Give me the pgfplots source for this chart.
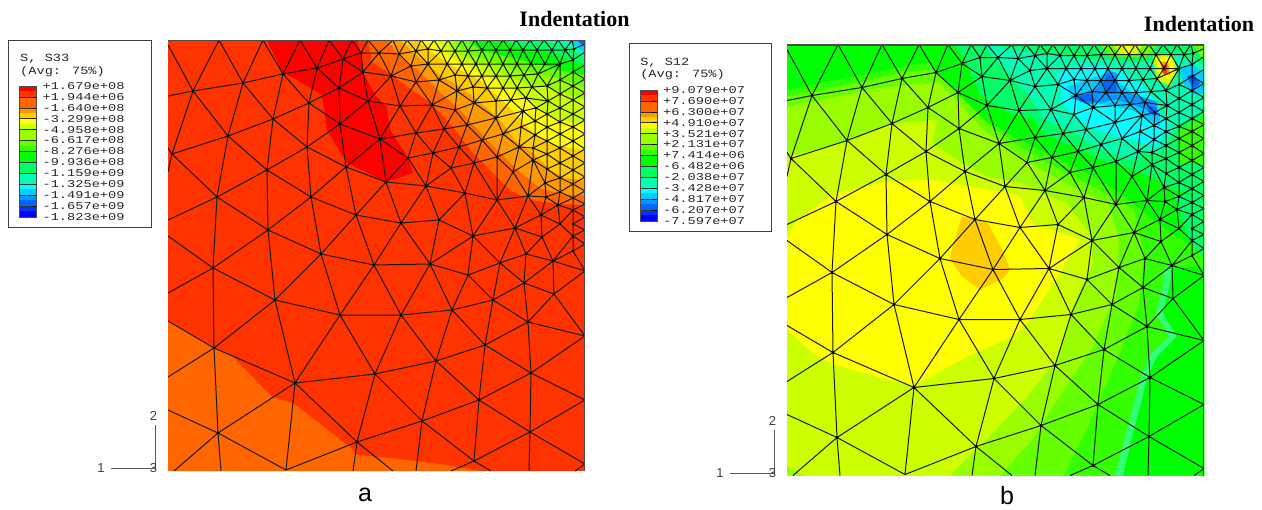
\documentclass[border=0pt]{standalone}
\usepackage{fontspec}
\setmainfont{Liberation Serif}
\newfontfamily\sansf{Liberation Sans}
\newfontfamily\monof{Liberation Mono}
\usepackage{pgfplots}
\usepackage{pgfplotstable}
\pgfplotsset{compat=1.18}
\newcommand\poly[2]{\addplot[fill=#1,draw=none,forget plot] coordinates {#2} --cycle;}
\definecolor{r0}{HTML}{FF0000}\definecolor{r1}{HTML}{FF3300}\definecolor{r2}{HTML}{FF6600}
\definecolor{r3}{HTML}{FF9900}\definecolor{r4}{HTML}{FFCC00}\definecolor{r5}{HTML}{FFFF00}
\definecolor{r6}{HTML}{CCFF00}\definecolor{r7}{HTML}{99FF00}\definecolor{r8}{HTML}{66FF00}
\definecolor{r9}{HTML}{33FF00}\definecolor{r10}{HTML}{00FF00}\definecolor{r11}{HTML}{00FF66}
\definecolor{r12}{HTML}{00FFB0}\definecolor{r13}{HTML}{00FFFF}\definecolor{r14}{HTML}{00CCFF}
\definecolor{r15}{HTML}{0099FF}\definecolor{r16}{HTML}{0066FF}\definecolor{r17}{HTML}{0033FF}
\definecolor{r18}{HTML}{0000FF}\definecolor{rb}{HTML}{33FF77}
\pgfplotstableread[row sep=\\]{
x y\\
168 45\\193 91\\219 40\\243 83\\263 40\\283 74\\300 40\\317 68\\329 40\\343 59\\352 40\\361 53\\368 40\\379 53\\393 40\\399 54\\407 40\\416 51\\421 40\\428 49\\434 40\\441 51\\448 40\\455 51\\462 40\\468 51\\475 40\\482 50\\489 40\\496 50\\503 40\\510 50\\516 40\\523 50\\530 40\\537 50\\544 40\\552 50\\558 40\\565 50\\572 40\\574 49\\585 44\\nan nan\\
168 96\\193 91\\243 83\\283 74\\317 68\\343 59\\361 53\\379 53\\399 54\\416 51\\428 49\\441 51\\455 51\\468 51\\482 50\\496 50\\510 50\\523 50\\537 50\\552 50\\565 50\\574 49\\nan nan\\
193 91\\228 136\\243 83\\273 119\\283 74\\309 103\\317 68\\339 88\\343 59\\363 72\\361 53\\nan nan\\
379 53\\363 72\\391 76\\379 53\\nan nan\\399 54\\391 76\\411 66\\399 54\\nan nan\\
411 66\\428 64\\447 64\\462 64\\476 64\\489 64\\503 64\\517 64\\531 64\\545 64\\560 64\\nan nan\\
411 66\\416 51\\428 64\\428 49\\nan nan\\428 64\\441 51\\447 64\\455 51\\462 64\\468 51\\476 64\\482 50\\489 64\\496 50\\503 64\\510 50\\517 64\\523 50\\531 64\\537 50\\545 64\\552 50\\560 64\\565 50\\573 60\\574 49\\nan nan\\
391 76\\416 82\\439 80\\455 75\\468 76\\482 76\\496 76\\510 76\\524 75\\538 74\\560 64\\nan nan\\
411 66\\416 82\\428 64\\439 80\\447 64\\455 75\\462 64\\468 76\\476 64\\482 76\\489 64\\496 76\\503 64\\510 76\\517 64\\524 75\\531 64\\538 74\\545 64\\nan nan\\
457 91\\473 87\\487 88\\503 88\\517 88\\532 87\\547 86\\560 80\\573 72\\585 65\\nan nan\\
439 80\\457 91\\455 75\\nan nan\\457 91\\468 76\\473 87\\482 76\\487 88\\496 76\\503 88\\510 76\\517 88\\524 75\\532 87\\538 74\\547 86\\560 64\\nan nan\\
400 106\\432 105\\455 110\\474 103\\496 101\\511 100\\526 98\\548 101\\nan nan\\
457 91\\474 103\\473 87\\nan nan\\474 103\\487 88\\496 101\\503 88\\511 100\\517 88\\526 98\\532 87\\548 101\\547 86\\nan nan\\
416 82\\400 106\\nan nan\\416 82\\432 105\\439 80\\nan nan\\432 105\\457 91\\455 110\\nan nan\\
391 76\\400 106\\368 101\\391 76\\nan nan\\363 72\\368 101\\339 88\\363 72\\nan nan\\368 101\\380 139\\340 124\\368 101\\nan nan\\339 88\\340 124\\309 103\\339 88\\nan nan\\400 106\\380 139\\nan nan\\
363 72\\339 88\\309 103\\273 119\\228 136\\172 154\\nan nan\\172 154\\168 148\\nan nan\\172 154\\168 172\\nan nan\\193 91\\172 154\\217 197\\228 136\\267 170\\273 119\\307 147\\309 103\\nan nan\\
267 170\\307 147\\340 124\\nan nan\\307 147\\346 167\\340 124\\nan nan\\346 167\\380 139\\386 182\\346 167\\nan nan\\380 139\\408 158\\386 182\\nan nan\\267 170\\311 197\\307 147\\nan nan\\217 197\\267 170\\268 230\\217 197\\nan nan\\311 197\\346 167\\356 215\\386 182\\nan nan\\311 197\\356 215\\401 223\\386 182\\nan nan\\
380 139\\416 133\\444 129\\467 125\\496 118\\523 111\\536 108\\548 101\\560 94\\573 86\\585 79\\nan nan\\
408 158\\433 153\\459 147\\482 140\\503 134\\521 127\\535 121\\547 114\\560 108\\573 100\\585 93\\nan nan\\
400 106\\416 133\\432 105\\444 129\\455 110\\467 125\\474 103\\496 118\\496 101\\nan nan\\511 100\\496 118\\503 134\\523 111\\521 127\\nan nan\\511 100\\523 111\\526 98\\536 108\\535 121\\523 111\\nan nan\\536 108\\547 114\\nan nan\\
467 125\\459 147\\444 129\\433 153\\416 133\\408 158\\nan nan\\467 125\\482 140\\496 118\\nan nan\\
408 158\\426 186\\433 153\\451 168\\459 147\\474 163\\482 140\\497 157\\503 134\\519 147\\521 127\\535 135\\535 121\\547 127\\nan nan\\
426 186\\451 168\\474 163\\497 157\\519 147\\535 135\\547 127\\560 122\\573 114\\585 107\\nan nan\\
386 182\\426 186\\465 193\\451 168\\nan nan\\465 193\\474 163\\497 200\\497 157\\513 172\\519 147\\533 160\\513 172\\497 200\\465 193\\nan nan\\513 172\\528 196\\533 160\\545 183\\528 196\\497 200\\nan nan\\519 147\\533 148\\535 135\\nan nan\\533 148\\533 160\\nan nan\\535 135\\547 141\\533 148\\547 154\\533 160\\547 169\\nan nan\\
547 86\\548 101\\547 114\\547 127\\547 141\\547 154\\547 169\\545 183\\546 197\\541 215\\542 237\\nan nan\\
560 64\\560 80\\560 94\\560 108\\560 122\\560 134\\560 148\\560 163\\560 178\\560 192\\558 205\\560 224\\nan nan\\
574 49\\573 60\\573 72\\573 86\\573 100\\573 114\\573 127\\573 141\\573 156\\573 170\\573 184\\573 198\\573 210\\573 224\\573 236\\573 251\\nan nan\\
560 64\\573 60\\nan nan\\573 72\\560 80\\573 86\\560 94\\573 100\\560 108\\573 114\\560 122\\573 127\\560 134\\573 141\\560 148\\573 156\\560 163\\573 170\\560 178\\573 184\\560 192\\573 198\\558 205\\573 210\\560 224\\573 236\\nan nan\\
547 86\\560 94\\548 101\\560 108\\547 114\\560 122\\547 127\\560 134\\547 141\\560 148\\547 154\\560 163\\547 169\\560 178\\545 183\\560 192\\546 197\\558 205\\541 215\\560 224\\542 237\\553 261\\nan nan\\
573 60\\585 52\\nan nan\\573 72\\585 79\\573 86\\585 93\\573 100\\585 107\\573 114\\585 120\\573 127\\585 134\\573 141\\585 149\\573 156\\585 163\\573 170\\585 177\\573 184\\585 191\\573 198\\585 204\\573 210\\585 217\\573 224\\585 230\\573 236\\585 244\\573 251\\585 271\\553 261\\573 251\\nan nan\\553 261\\573 236\\nan nan\\
168 220\\217 197\\213 268\\168 236\\nan nan\\213 268\\268 230\\311 197\\321 254\\268 230\\275 300\\213 268\\214 348\\275 300\\321 254\\340 315\\275 300\\nan nan\\
311 197\\321 254\\356 215\\374 265\\321 254\\nan nan\\356 215\\401 223\\374 265\\430 264\\401 223\\439 220\\430 264\\473 236\\439 220\\465 193\\nan nan\\426 186\\401 223\\nan nan\\426 186\\439 220\\nan nan\\
465 193\\473 236\\497 200\\515 228\\473 236\\nan nan\\497 200\\528 196\\515 228\\541 215\\528 196\\546 197\\545 183\\nan nan\\546 197\\541 215\\nan nan\\
515 228\\542 237\\526 254\\515 228\\500 263\\473 236\\468 275\\430 264\\nan nan\\500 263\\526 254\\553 261\\542 237\\nan nan\\468 275\\500 263\\524 283\\526 254\\nan nan\\524 283\\553 261\\554 294\\524 283\\493 300\\500 263\\nan nan\\
468 275\\493 300\\452 310\\468 275\\nan nan\\430 264\\452 310\\401 315\\430 264\\nan nan\\401 315\\374 265\\340 315\\401 315\\nan nan\\340 315\\295 383\\275 300\\nan nan\\214 348\\295 383\\375 374\\340 315\\nan nan\\
375 374\\401 315\\436 361\\452 310\\485 345\\493 300\\528 322\\524 283\\nan nan\\554 294\\528 322\\485 345\\436 361\\375 374\\422 421\\436 361\\479 400\\485 345\\531 373\\528 322\\nan nan\\554 294\\585 271\\nan nan\\554 294\\585 336\\528 322\\nan nan\\
585 336\\531 373\\479 400\\422 421\\357 442\\375 374\\nan nan\\531 373\\585 400\\530 432\\531 373\\nan nan\\530 432\\479 400\\474 461\\422 421\\nan nan\\474 461\\530 432\\585 464\\575 471\\nan nan\\530 432\\529 471\\nan nan\\474 461\\451 471\\nan nan\\474 461\\491 471\\nan nan\\422 421\\416 471\\nan nan\\
357 442\\393 471\\nan nan\\357 442\\353 471\\nan nan\\357 442\\286 470\\295 383\\357 442\\nan nan\\295 383\\218 433\\214 348\\nan nan\\218 433\\286 470\\nan nan\\218 433\\168 410\\nan nan\\218 433\\174 471\\nan nan\\218 433\\221 471\\nan nan\\214 348\\168 321\\nan nan\\214 348\\168 377\\nan nan\\213 268\\168 293\\nan nan\\
}\meshdata
\newcommand\bands{%
\poly{r0}{(0,0)(17,0)(17,5.5)(0,5.5)}\poly{r1}{(0,5.5)(17,5.5)(17,10.9)(0,10.9)}
\poly{r2}{(0,10.9)(17,10.9)(17,21.8)(0,21.8)}\poly{r3}{(0,21.8)(17,21.8)(17,27)(0,27)}
\poly{r4}{(0,27)(17,27)(17,32.7)(0,32.7)}\poly{r5}{(0,32.7)(17,32.7)(17,38)(0,38)}
\poly{r6}{(0,38)(17,38)(17,43.6)(0,43.6)}\poly{r7}{(0,43.6)(17,43.6)(17,54.5)(0,54.5)}
\poly{r8}{(0,54.5)(17,54.5)(17,60)(0,60)}\poly{r9}{(0,60)(17,60)(17,65.4)(0,65.4)}
\poly{r10}{(0,65.4)(17,65.4)(17,76.3)(0,76.3)}\poly{r11}{(0,76.3)(17,76.3)(17,87.2)(0,87.2)}
\poly{r12}{(0,87.2)(17,87.2)(17,98.1)(0,98.1)}\poly{r13}{(0,98.1)(17,98.1)(17,103.5)(0,103.5)}
\poly{r14}{(0,103.5)(17,103.5)(17,109)(0,109)}\poly{r15}{(0,109)(17,109)(17,114.5)(0,114.5)}
\poly{r16}{(0,114.5)(17,114.5)(17,120)(0,120)}\poly{r17}{(0,120)(17,120)(17,125.5)(0,125.5)}
\poly{r18}{(0,125.5)(17,125.5)(17,131)(0,131)}}
\newcommand\meshplot{%
\addplot[black!90,line width=1pt] table[x=x,y=y] {\meshdata};
\addplot[only marks,mark=*,mark size=0.9pt,mark options={black,draw=black},restrict x to domain=171:582,restrict y to domain=43:468] table[x=x,y=y] {\meshdata};
\addplot[black!70,line width=1.5pt] coordinates {(168,40.5)(584.5,40.5)(584.5,471)};}
\pgfplotsset{
 panel/.style={anchor=north west,scale only axis,width=417pt,height=431pt,xmin=168,xmax=585,ymin=40,ymax=471,y dir=reverse,hide axis,unbounded coords=jump},
 leg/.style={anchor=north west,scale only axis,width=17pt,height=131pt,xmin=0,xmax=17,ymin=0,ymax=131,y dir=reverse,
  xtick=\empty,ytick={0,10.9,21.8,32.7,43.6,54.5,65.4,76.3,87.2,98.1,109,119.9,131},
  ytick pos=right,major tick length=5pt,tick style={black,line width=0.5pt},ymajorgrids,grid style={black!80,line width=0.5pt},axis on top,
  axis line style={black!70,line width=0.5pt},clip=false,
  yticklabel style={font=\monof\fontsize{10.5}{10.5}\selectfont,xscale=1.3,anchor=west,xshift=4.5pt,text=black!85,inner sep=0pt}},
}
\begin{document}
\begin{tikzpicture}[x=1pt,y=1pt]
%--- page axis
\begin{axis}[at={(0,0)},anchor=north west,scale only axis,width=1262pt,height=510pt,xmin=0,xmax=1262,ymin=0,ymax=510,y dir=reverse,hide axis]
\addplot[fill=white,draw=none,forget plot] coordinates {(0,0)(1262,0)(1262,510)(0,510)} --cycle;
\addplot[fill=white,draw=black!75,line width=1pt,forget plot] coordinates {(8.5,40.5)(151.5,40.5)(151.5,227)(8.5,227)} --cycle;
\addplot[fill=white,draw=black!75,line width=1pt,forget plot] coordinates {(629.5,43.5)(771.5,43.5)(771.5,231)(629.5,231)} --cycle;
\addplot[black!65,line width=1pt,forget plot] coordinates {(155,425)(155,468)(111,468)};
\addplot[black!65,line width=1pt,forget plot] coordinates {(774,430)(774,473)(730,473)};
\node[font=\sansf\fontsize{13}{13}\selectfont,text=black!75] at (axis cs:153.5,416) {2};
\node[font=\sansf\fontsize{13}{13}\selectfont,text=black!75] at (axis cs:101,468) {1};
\node[font=\sansf\fontsize{13}{13}\selectfont,text=black!75] at (axis cs:153.5,468) {3};
\node[font=\sansf\fontsize{13}{13}\selectfont,text=black!75] at (axis cs:772.5,421) {2};
\node[font=\sansf\fontsize{13}{13}\selectfont,text=black!75] at (axis cs:720,473) {1};
\node[font=\sansf\fontsize{13}{13}\selectfont,text=black!75] at (axis cs:772.5,473) {3};
\node[font=\bfseries\fontsize{22}{22}\selectfont] at (axis cs:574.5,19) {Indentation};
\node[font=\bfseries\fontsize{22}{22}\selectfont] at (axis cs:1199,24) {Indentation};
\node[font=\sansf\fontsize{25}{25}\selectfont] at (axis cs:365,495) {a};
\node[font=\sansf\fontsize{25}{25}\selectfont] at (axis cs:1007,496) {b};
\node[font=\monof\fontsize{11}{11}\selectfont,xscale=1.24,anchor=west,inner sep=0pt,text=black!85] at (axis cs:20,58.5) {S, S33};
\node[font=\monof\fontsize{11}{11}\selectfont,xscale=1.24,anchor=west,inner sep=0pt,text=black!85] at (axis cs:20,71.5) {(Avg: 75\%)};
\node[font=\monof\fontsize{11}{11}\selectfont,xscale=1.24,anchor=west,inner sep=0pt,text=black!85] at (axis cs:640,62.5) {S, S12};
\node[font=\monof\fontsize{11}{11}\selectfont,xscale=1.24,anchor=west,inner sep=0pt,text=black!85] at (axis cs:640,74.5) {(Avg: 75\%)};
\end{axis}
%--- legend a
\begin{axis}[leg,at={(19.5pt,-86pt)},yticklabels={+1.679e+08,+1.944e+06,-1.640e+08,-3.299e+08,-4.958e+08,-6.617e+08,-8.276e+08,-9.936e+08,-1.159e+09,-1.325e+09,-1.491e+09,-1.657e+09,-1.823e+09}]
\bands
\end{axis}
%--- legend b
\begin{axis}[leg,at={(640pt,-90pt)},yticklabels={+9.079e+07,+7.690e+07,+6.300e+07,+4.910e+07,+3.521e+07,+2.131e+07,+7.414e+06,-6.482e+06,-2.038e+07,-3.428e+07,-4.817e+07,-6.207e+07,-7.597e+07}]
\bands
\end{axis}
%--- panel a
\begin{axis}[panel,at={(168pt,-40pt)}]
\poly{r1}{(168,40)(585,40)(585,471)(168,471)}
\poly{r2}{(168,321)(214,347)(233,357)(272,397)(293,403)(350,447)(357,455)(390,458)(440,464)(480,471)(168,471)}
\poly{r0}{(267,40)(283,74)(292,77)(322,95)(327,130)(347,163)(386,182)(413,173)(408,158)(390,130)(387,107)(375,95)(363,72)(360,50)(357,40)}
\poly{r2}{(368,40)(372,62)(392,75)(412,90)(430,102)(453,127)(473,153)(492,172)(510,190)(530,200)(560,204)(585,205)(585,40)}
\poly{r3}{(388,40)(398,55)(420,72)(440,92)(460,110)(478,130)(497,150)(520,172)(540,188)(565,195)(585,195)(585,40)}
\poly{r4}{(400,40)(420,58)(440,75)(462,88)(480,102)(500,120)(515,140)(533,153)(550,170)(565,178)(585,180)(585,40)}
\poly{r5}{(417,40)(432,52)(452,66)(480,80)(500,98)(517,115)(535,135)(555,145)(570,148)(585,150)(585,40)}
\poly{r6}{(437,40)(448,55)(470,67)(490,77)(513,90)(530,103)(550,117)(570,122)(585,125)(585,40)}
\poly{r7}{(447,40)(455,52)(478,63)(500,72)(523,82)(550,88)(570,95)(585,100)(585,40)}
\poly{r8}{(455,40)(462,50)(480,58)(500,64)(523,71)(550,76)(570,82)(585,88)(585,40)}
\poly{r10}{(468,40)(480,50)(500,55)(520,60)(547,66)(562,71)(585,75)(585,40)}
\poly{r11}{(505,40)(515,46)(535,50)(550,52)(570,60)(585,65)(585,40)}
\poly{r12}{(535,40)(550,42)(570,48)(585,57)(585,40)}
\poly{r14}{(568,40)(575,46)(585,52)(585,40)}
\poly{r16}{(577,40)(581,44)(585,46)(585,40)}
\meshplot
\end{axis}
%--- panel b
\begin{axis}[panel,at={(787pt,-44.5pt)}]
\poly{r6}{(168,40)(585,40)(585,471)(168,471)}
\poly{r7}{(168,462)(185,471)(168,471)}
\poly{r7}{(168,152)(228,137)(271,120)(318,115)(314,139)(341,157)(368,172)(400,178)(448,199)(471,229)(474,259)(454,302)(438,355)(406,395)(368,435)(331,471)(585,471)(585,40)(168,40)}
\poly{r5}{(168,232)(175,220)(188,208)(217,189)(267,177)(311,175)(351,182)(394,189)(401,192)(414,219)(461,235)(451,252)(411,315)(394,332)(348,352)(294,382)(214,360)(194,349)(168,325)}
\poly{r4}{(343,212)(357,215)(369,219)(383,245)(391,265)(384,274)(361,285)(343,272)(331,254)(333,244)}
\poly{r8}{(168,102)(228,90)(268,82)(320,78)(344,102)(364,125)(401,152)(440,175)(490,200)(500,235)(497,290)(474,342)(434,402)(414,435)(381,471)(585,471)(585,40)(168,40)}
\poly{r9}{(168,92)(221,82)(284,68)(315,65)(345,95)(370,120)(400,142)(440,165)(480,185)(515,205)(525,250)(520,300)(500,350)(470,420)(445,471)(585,471)(585,40)(168,40)}
\poly{rb}{(496,471)(507,429)(521,375)(531,350)(550,332)(537,309)(544,279)(546,262)(585,262)(585,471)}
\poly{r10}{(504,471)(514,429)(528,375)(538,352)(558,332)(544,309)(551,279)(553,262)(585,262)(585,471)}
\poly{r10}{(168,40)(168,85)(221,75)(284,62)(310,58)(340,90)(365,115)(400,135)(440,155)(480,175)(510,195)(540,220)(570,240)(585,245)(585,40)}
\poly{r11}{(335,40)(348,59)(362,92)(390,108)(415,115)(425,130)(448,139)(481,155)(514,165)(538,175)(554,185)(585,192)(585,40)}
\poly{r11}{(555,190)(585,190)(585,255)(570,235)}
\poly{r12}{(365,40)(375,55)(390,70)(410,92)(425,115)(450,125)(480,145)(510,155)(530,147)(540,150)(560,120)(585,105)(585,60)(560,50)(530,58)(480,55)(430,50)}
\poly{r9}{(561,125)(585,112)(585,159)(561,159)}
\poly{r13}{(438,69)(464,60)(491,62)(521,78)(534,95)(548,122)(538,142)(498,132)(468,122)(444,99)}
\poly{r14}{(448,82)(488,69)(514,89)(531,95)(541,109)(541,122)(514,106)(481,99)(454,95)}
\poly{r15}{(451,92)(474,87)(488,65)(498,69)(499,85)(514,90)(538,97)(538,112)(528,105)(498,95)(468,100)}
\poly{r16}{(488,69)(496,75)(498,87)(488,89)(484,79)}
\poly{r16}{(528,100)(538,104)(536,112)(529,107)}
\poly{r16}{(458,92)(471,89)(478,97)(461,97)}
\poly{r14}{(561,65)(573,59)(585,69)(585,89)(574,90)(566,82)}
\poly{r16}{(568,72)(574,69)(581,79)(574,85)}
\poly{r17}{(571,74)(576,75)(574,80)}
\poly{r8}{(481,40)(538,40)(528,52)(491,52)}
\poly{r6}{(494,40)(524,40)(518,50)(501,50)}
\poly{r5}{(503,40)(516,40)(511,49)(508,49)}
\poly{r8}{(574,42)(585,40)(585,55)}
\poly{r6}{(534,52)(554,49)(558,69)(551,82)(538,75)}
\poly{r5}{(538,55)(551,52)(556,67)(549,75)(541,70)}
\poly{r3}{(541,57)(549,57)(551,70)(544,70)}
\poly{r1}{(543,60)(548,60)(548,69)(544,69)}
\meshplot
\end{axis}
\end{tikzpicture}
\end{document}
